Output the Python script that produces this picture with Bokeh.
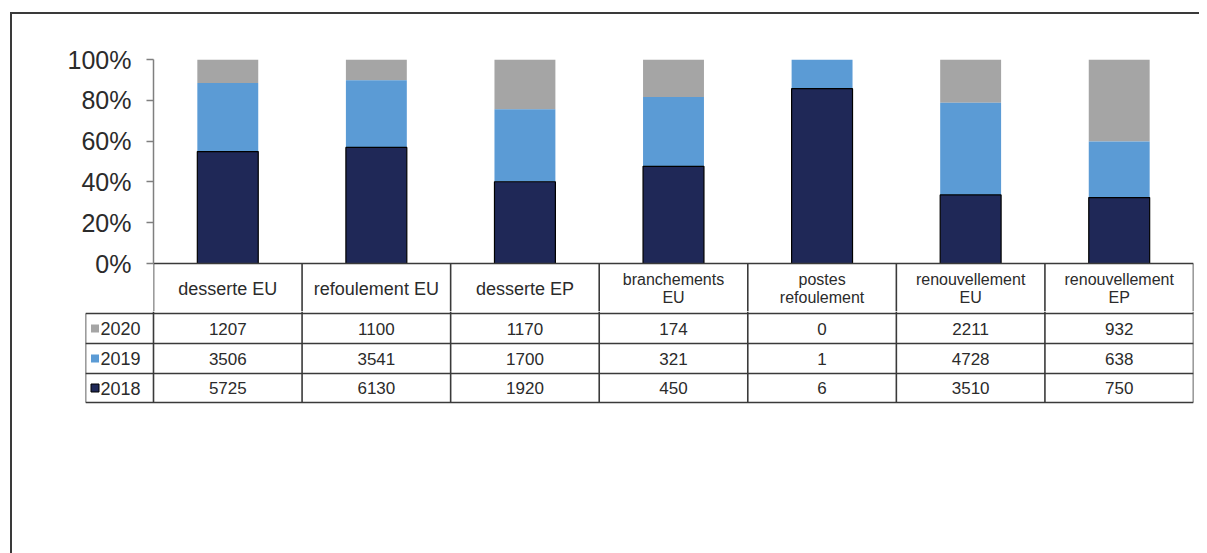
import numpy as np
from bokeh.plotting import figure
from bokeh.models import ColumnDataSource, Range1d, FixedTicker, NumeralTickFormatter
from bokeh.layouts import column
from bokeh.embed import file_html
from bokeh.resources import INLINE
from bokeh.core.properties import value

# ---------------- data ----------------
categories = ["desserte EU", "refoulement EU", "desserte EP", "branchements EU",
              "postes refoulement", "renouvellement EU", "renouvellement EP"]
header_labels = ["desserte EU", "refoulement EU", "desserte EP", "branchements\nEU",
                 "postes\nrefoulement", "renouvellement\nEU", "renouvellement\nEP"]
years = ["2020", "2019", "2018"]           # table row order
v2018 = [5725, 6130, 1920, 450, 6, 3510, 750]
v2019 = [3506, 3541, 1700, 321, 1, 4728, 638]
v2020 = [1207, 1100, 1170, 174, 0, 2211, 932]
y_ticks = [0, 0.2, 0.4, 0.6, 0.8, 1.0]

# ---------------- styles ----------------
COL = {"2018": "#1f2857", "2019": "#5b9bd5", "2020": "#a5a5a5"}
FONT = "Liberation Sans"
TXT = "#2b2b2b"
LINE = "#3a3a3a"
header_sizes = ["18px", "18px", "18px", "16px", "16px", "16px", "16px"]

n = len(categories)
a18 = np.array(v2018, float)
a19 = np.array(v2019, float)
a20 = np.array(v2020, float)
tot = a18 + a19 + a20
f18 = a18 / tot
f19 = a19 / tot
f20 = a20 / tot
xc = np.arange(n) + 0.5

PX = 204.0                 # px per 100 % on the chart
HDR_H = 48.0 / PX          # header band drawn inside the chart figure (below 0)

# ---------------- chart figure (bars + table header) ----------------
pA = figure(width=1187, height=297, x_range=Range1d(0, n), y_range=Range1d(-HDR_H, 1),
            output_backend="svg", toolbar_location=None, x_axis_location=None,
            min_border_left=141, min_border_right=6, min_border_top=45, min_border_bottom=0)
pA.outline_line_color = None
pA.grid.visible = False
try:
    pA.frame_align = False
except Exception:
    pass

src = ColumnDataSource(dict(x=xc,
                            b18=np.zeros(n), t18=f18,
                            b19=f18, t19=f18 + f19,
                            b20=f18 + f19, t20=f18 + f19 + f20))
BW = 0.41
pA.vbar(x="x", bottom="b20", top="t20", width=BW, source=src,
        fill_color=COL["2020"], line_color=None)
pA.vbar(x="x", bottom="b19", top="t19", width=BW, source=src,
        fill_color=COL["2019"], line_color=None)
pA.vbar(x="x", bottom="b18", top="t18", width=BW, source=src,
        fill_color=COL["2018"], line_color="black", line_width=1.2)

# header band lines
pA.segment(x0=list(range(n + 1)), y0=[0] * (n + 1), x1=list(range(n + 1)), y1=[-HDR_H] * (n + 1),
           line_color=LINE, line_width=1.6)
pA.segment(x0=[0], y0=[0], x1=[n], y1=[0], line_color=LINE, line_width=1.6)
pA.text(x=list(xc), y=[-25 / PX] * n, text=header_labels,
        text_align="center", text_baseline="middle",
        text_font=value(FONT), text_font_size=header_sizes,
        text_color=TXT, text_line_height=1.05)

ya = pA.yaxis[0]
ya.ticker = FixedTicker(ticks=y_ticks)
ya.formatter = NumeralTickFormatter(format="0%")
ya.bounds = (0, 1)
ya.minor_tick_line_color = None
ya.major_tick_in = 0
ya.major_tick_out = 7
ya.major_label_standoff = 15
ya.axis_line_color = "#7f7f7f"
ya.axis_line_width = 1.5
ya.major_tick_line_color = "#7f7f7f"
ya.major_tick_line_width = 1.5
ya.major_label_text_font = FONT
ya.major_label_text_font_size = "25px"
ya.major_label_text_color = TXT

# ---------------- table body figure ----------------
CW = 148.57                       # px per category column
x_left = -(153 - 85) / CW         # legend column left edge in data units
row_edges = [2, 32, 62, 91]       # px below top of this figure

pB = figure(width=1187, height=242, x_range=Range1d(x_left, n), y_range=Range1d(242, 0),
            output_backend="svg", toolbar_location=None,
            x_axis_location=None, y_axis_location=None,
            min_border_left=73, min_border_right=6, min_border_top=0, min_border_bottom=0)
pB.outline_line_color = None
pB.grid.visible = False
try:
    pB.frame_align = False
except Exception:
    pass

xs0, ys0, xs1, ys1 = [], [], [], []
for i in range(n + 1):
    xs0.append(i); xs1.append(i); ys0.append(0); ys1.append(row_edges[-1])
xs0.append(x_left); xs1.append(x_left); ys0.append(row_edges[0]); ys1.append(row_edges[-1])
for r in row_edges:
    xs0.append(x_left); xs1.append(n); ys0.append(r); ys1.append(r)
pB.segment(x0=xs0, y0=ys0, x1=xs1, y1=ys1, line_color=LINE, line_width=1.6)

rows = {"2020": v2020, "2019": v2019, "2018": v2018}
for k, yr in enumerate(years):
    ymid = (row_edges[k] + row_edges[k + 1]) / 2
    pB.text(x=list(xc), y=[ymid] * n, text=[str(v) for v in rows[yr]],
            text_align="center", text_baseline="middle",
            text_font=value(FONT), text_font_size="17px", text_color=TXT)
    pB.scatter(x=[x_left + 9.5 / CW], y=[ymid], marker="square", size=8,
               fill_color=COL[yr], line_color="black" if yr == "2018" else None,
               line_width=1)
    pB.text(x=[x_left + 15 / CW], y=[ymid], text=[yr],
            text_align="left", text_baseline="middle",
            text_font=value(FONT), text_font_size="18px", text_color=TXT)

layout = column(pA, pB, margin=(12, 0, 0, 10),
                styles={"border-left": "2px solid #3a3a3a",
                        "border-top": "2px solid #3a3a3a"})

open("out.html", "w").write(file_html(layout, INLINE))
